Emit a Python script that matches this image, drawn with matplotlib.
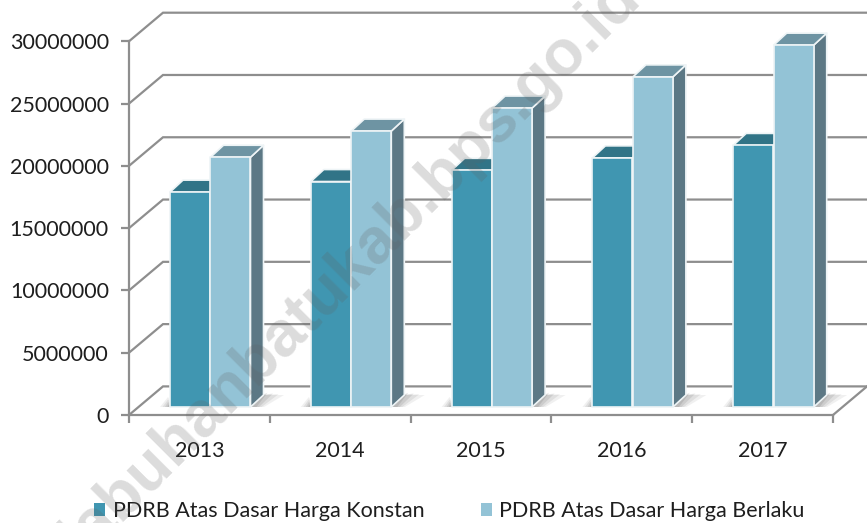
import matplotlib
matplotlib.use('Agg')
import matplotlib.pyplot as plt
from matplotlib.patches import Polygon, Patch

years = ['2013', '2014', '2015', '2016', '2017']
konstan = [17250000, 18100000, 19000000, 20000000, 21000000]
berlaku = [20050000, 22150000, 24000000, 26500000, 29050000]
y_ticks = [0, 5000000, 10000000, 15000000, 20000000, 25000000, 30000000]
series_names = ['PDRB Atas Dasar Harga Konstan', 'PDRB Atas Dasar Harga Berlaku']

W, H = 867, 523
X0, X1, Y0, Y1 = 129, 833, 415, 41.3
CAT_PX = (X1 - X0) / 5
VAL_PX = (Y0 - Y1) / 30000000

# oblique offsets, pixels turned into data units
def dx(px):
    return px / CAT_PX

def dy(px):
    return px / VAL_PX

plt.rcParams['font.family'] = ['Lato', 'DejaVu Sans']

fig = plt.figure(figsize=(W / 100, H / 100), dpi=100)
ax = fig.add_axes([X0 / W, 1 - Y0 / H, (X1 - X0) / W, (Y0 - Y1) / H])
ax.set_xlim(0, 5)
ax.set_ylim(0, 30000000)

grid_c = '#8e8e8e'
for v in y_ticks:
    ax.plot([0, dx(34), 5 + dx(34)], [v, v + dy(28.6), v + dy(28.6)],
            color=grid_c, lw=1.6, clip_on=False, zorder=1, solid_joinstyle='miter')
ax.plot([5, 5 + dx(34)], [0, dy(28.6)], color=grid_c, lw=1.6, clip_on=False, zorder=1)


def draw_bar(left, value, front, top, side):
    w = dx(40)
    base = dy(8)
    ox, oy = dx(13), dy(12)
    edge = dict(edgecolor='#eef4f6', lw=1.2, clip_on=False, zorder=4, joinstyle='round')
    ax.add_patch(Polygon([(left + w, base), (left + w + ox, base + oy),
                          (left + w + ox, value + base + oy), (left + w, value + base)],
                         facecolor=side, **edge))
    ax.add_patch(Polygon([(left, value + base), (left + w, value + base),
                          (left + w + ox, value + base + oy), (left + ox, value + base + oy)],
                         facecolor=top, **edge))
    ax.add_patch(Polygon([(left, base), (left + w, base), (left + w, value + base), (left, value + base)],
                         facecolor=front, **edge))


def draw_shadow(left):
    # wedges on the floor, stacked so they fade away from the bars
    for spread, alpha in [(1.0, 0.08), (0.75, 0.1), (0.5, 0.12), (0.25, 0.14)]:
        ax.add_patch(Polygon([(left - dx(10 * spread), dy(8)), (left - dx(2), dy(8 + 10 * spread)),
                              (left + dx(4), dy(8))],
                             facecolor='#4a4a4a', alpha=alpha, lw=0, clip_on=False, zorder=2))
        ax.add_patch(Polygon([(left + dx(80), dy(8)), (left + dx(92), dy(20)),
                              (left + dx(92 + 22 * spread), dy(23 - 3 * spread)),
                              (left + dx(84 + 10 * spread), dy(8))],
                             facecolor='#4a4a4a', alpha=alpha, lw=0, clip_on=False, zorder=2))


for i in range(len(years)):
    left = i + dx(41)
    draw_shadow(left)
    draw_bar(left, konstan[i], '#4096b1', '#317487', '#3a7f95')
    draw_bar(left + dx(40.5), berlaku[i], '#93c3d6', '#6e94a3', '#5c7885')

for s in ['top', 'right']:
    ax.spines[s].set_visible(False)
for s in ['left', 'bottom']:
    ax.spines[s].set_color(grid_c)
    ax.spines[s].set_linewidth(1.6)
ax.set_yticks(y_ticks)
ax.set_yticklabels([str(v) for v in y_ticks])
ax.set_xticks(range(6))
ax.set_xticklabels([])
ax.set_xticks([i + 0.5 for i in range(5)], minor=True)
ax.set_xticklabels(years, minor=True)
ax.tick_params(axis='x', which='major', length=5.5, width=1.6, color=grid_c)
ax.tick_params(axis='x', which='minor', length=0, pad=18.5, labelsize=15.5, labelcolor='#1e1e1e')
ax.tick_params(axis='y', length=5.5, width=1.6, color=grid_c, pad=9, labelsize=15.5, labelcolor='#1e1e1e')

handles = [Patch(facecolor='#4096b1', edgecolor='none'), Patch(facecolor='#93c3d6', edgecolor='none')]
fig.legend(handles, series_names, ncol=2, frameon=False, fontsize=15.5, labelcolor='#1e1e1e',
           loc='center left', bbox_to_anchor=(94 / W, 1 - 511 / H), handlelength=0.51, handleheight=0.51,
           handletextpad=0.37, columnspacing=2.6, borderpad=0, borderaxespad=0)

fig.text(362 / W, 1 - 279 / H, 'labuhanbatukab.bps.go.id', fontsize=46, fontweight='bold',
         family=['Liberation Sans', 'DejaVu Sans'], color='#606060', alpha=0.22, rotation=45,
         rotation_mode='anchor', ha='center', va='baseline', zorder=10)

fig.savefig('out.png', dpi=100)
